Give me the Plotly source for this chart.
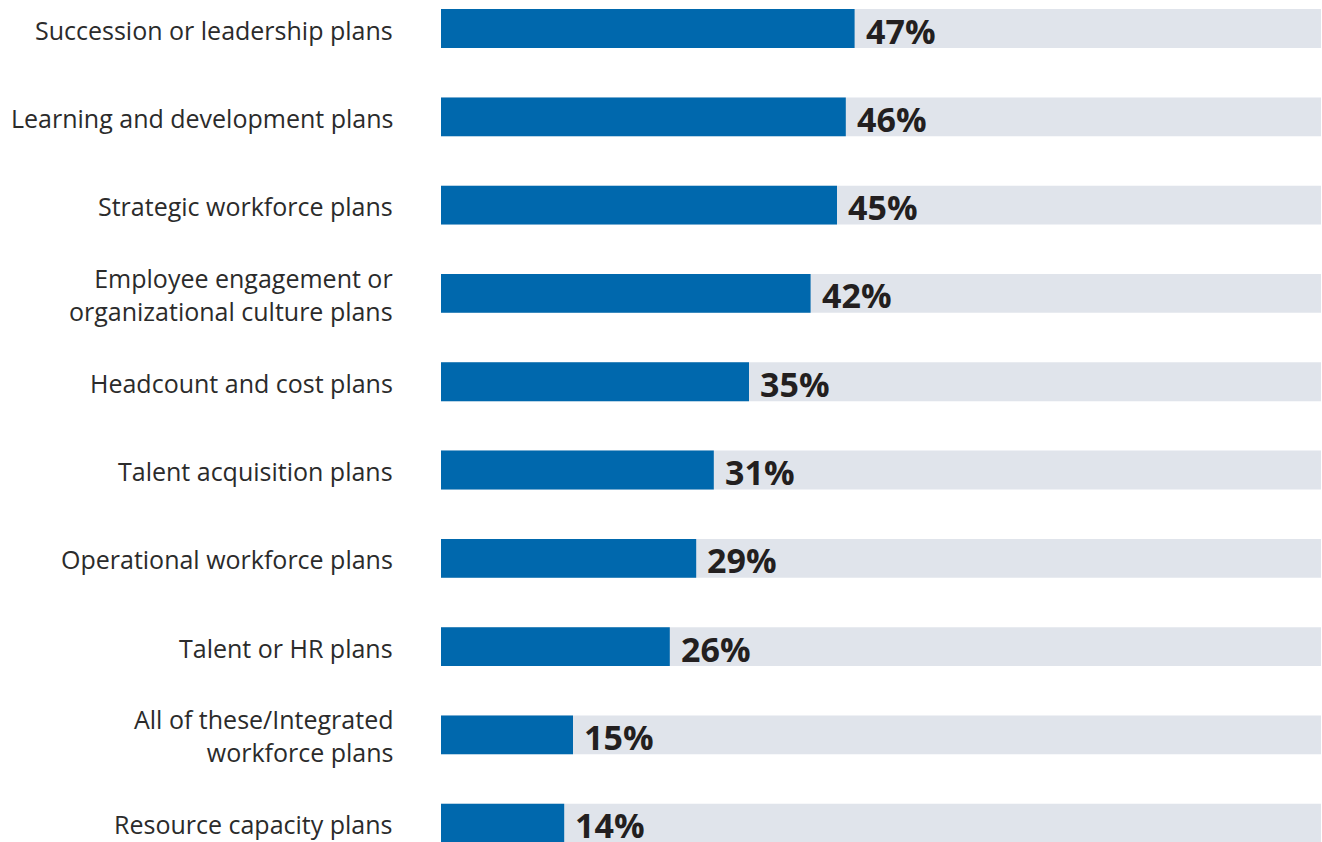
import plotly.graph_objects as go

categories = [
    "Succession or leadership plans",
    "Learning and development plans",
    "Strategic workforce plans",
    "Employee engagement or<br>organizational culture plans",
    "Headcount and cost plans",
    "Talent acquisition plans",
    "Operational workforce plans",
    "Talent or HR plans",
    "All of these/Integrated<br>workforce plans",
    "Resource capacity plans",
]
values = [47, 46, 45, 42, 35, 31, 29, 26, 15, 14]
full_scale = [100] * len(values)

positions = list(range(len(categories)))
BLUE = "#0068ad"
TRACK = "#e0e4eb"
LABEL_FONT = "Open Sans"
VALUE_FONT = "Open Sans"

fig = go.Figure()
fig.add_trace(go.Bar(
    y=positions, x=full_scale, orientation="h",
    marker=dict(color=TRACK, line=dict(width=0)),
    width=0.44, hoverinfo="skip", showlegend=False,
))
fig.add_trace(go.Bar(
    y=positions, x=values, orientation="h",
    marker=dict(color=BLUE, line=dict(width=0)),
    width=0.44, showlegend=False,
))
fig.update_layout(barmode="overlay")

# value labels just past the end of each blue bar
for p, v in zip(positions, values):
    fig.add_annotation(
        x=v, y=p, xref="x", yref="y", text=f"<b>{v}%</b>",
        showarrow=False, xanchor="left", yanchor="middle",
        xshift=9, yshift=-2,
        font=dict(family=VALUE_FONT, size=34, color="#231f20"),
    )

# category labels, right-aligned to the left of the plot area
for p, c in zip(positions, categories):
    fig.add_annotation(
        x=0, y=p, xref="paper", yref="y", text=c,
        showarrow=False, xanchor="right", yanchor="middle", align="right",
        xshift=-46, yshift=-1,
        font=dict(family=LABEL_FONT, size=25, color="#2b2b2b"),
    )

fig.update_layout(
    width=1322, height=842,
    margin=dict(l=441, r=1, t=0, b=0),
    paper_bgcolor="white", plot_bgcolor="white",
    xaxis=dict(range=[0, 100], visible=False, fixedrange=True),
    yaxis=dict(range=[9.213, -0.323], visible=False, fixedrange=True),
)

fig.write_html("out.html")
